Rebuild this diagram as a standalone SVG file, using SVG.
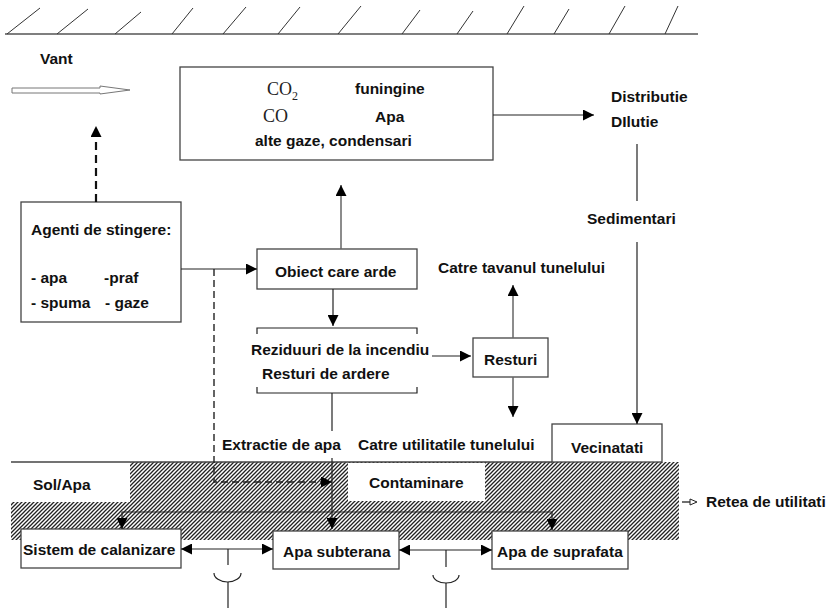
<svg xmlns="http://www.w3.org/2000/svg" width="839" height="608" viewBox="0 0 839 608">
<defs>
<style>
.t{font-family:"Liberation Sans",Arial,sans-serif;font-weight:bold;font-size:15.5px;fill:#111}
.s{font-family:"Liberation Serif","Times New Roman",serif;font-size:18px;fill:#222}
.box{fill:#fff;stroke:#444;stroke-width:1.3}
.ln{fill:none;stroke:#222;stroke-width:1.2}
.lg{fill:none;stroke:#666;stroke-width:1.5}
.dash{fill:none;stroke:#111;stroke-width:2.2;stroke-dasharray:8 5}
.dash2{fill:none;stroke:#222;stroke-width:1.4;stroke-dasharray:7 4}
.tick{stroke:#333;stroke-width:1}
</style>
<marker id="arr" viewBox="0 0 10 10" refX="10" refY="5" markerWidth="11" markerHeight="11" markerUnits="userSpaceOnUse" orient="auto"><path d="M0,0 L10,5 L0,10 z" fill="#000"/></marker>
<marker id="arrs" viewBox="0 0 10 10" refX="10" refY="5" markerWidth="11" markerHeight="11" markerUnits="userSpaceOnUse" orient="auto-start-reverse"><path d="M0,0 L10,5 L0,10 z" fill="#000"/></marker>
<marker id="arrb" viewBox="0 0 10 10" refX="10" refY="5" markerWidth="14" markerHeight="11" markerUnits="userSpaceOnUse" orient="auto"><path d="M0,0 L10,5 L0,10 z" fill="#000"/></marker>
<pattern id="hatch" patternUnits="userSpaceOnUse" width="4" height="4"><rect width="4" height="4" fill="#fff"/><path d="M-1,1 l2,-2 M0,4 l4,-4 M3,5 l2,-2" stroke="#222" stroke-width="1.3"/></pattern>
</defs>
<rect width="839" height="608" fill="#fff"/>

<g id="ceiling">
<line x1="5" y1="34" x2="698" y2="34" stroke="#555" stroke-width="1.5"/>
<line class="tick" x1="7" y1="34" x2="40" y2="8"/>
<line class="tick" x1="57" y1="34" x2="88" y2="9"/>
<line class="tick" x1="115" y1="34" x2="141" y2="12"/>
<line class="tick" x1="172" y1="34" x2="193" y2="8"/>
<line class="tick" x1="223" y1="34" x2="246" y2="7"/>
<line class="tick" x1="278" y1="34" x2="300" y2="7"/>
<line class="tick" x1="338" y1="34" x2="361" y2="6"/>
<line class="tick" x1="402" y1="34" x2="420" y2="10"/>
<line class="tick" x1="457" y1="34" x2="473" y2="11"/>
<line class="tick" x1="507" y1="34" x2="524" y2="6"/>
<line class="tick" x1="554" y1="34" x2="569" y2="9"/>
<line class="tick" x1="609" y1="34" x2="625" y2="6"/>
<line class="tick" x1="665" y1="34" x2="678" y2="6"/>
</g>

<g id="ground">
<path d="M130,462 H679 V540 H11 V502 H130 Z" fill="url(#hatch)"/>
<rect x="348" y="463" width="137" height="38" fill="#fff"/>
<line x1="11" y1="462" x2="552" y2="462" stroke="#444" stroke-width="1.3"/>
<text class="t" x="33" y="490">Sol/Apa</text>
<text class="t" x="369" y="488">Contaminare</text>
</g>

<g id="vant">
<text class="t" x="40" y="64">Vant</text>
<polygon points="12,88 100,88 100,86 130,90 100,94 100,93 12,93" fill="#fff" stroke="#777" stroke-width="1"/>
</g>

<g id="produse">
<rect class="box" x="180" y="67" width="313" height="93"/>
<text class="s" x="267" y="95">CO<tspan font-size="12" dy="5">2</tspan></text>
<text class="s" x="263" y="122">CO</text>
<text class="t" x="355" y="94">funingine</text>
<text class="t" x="375" y="122">Apa</text>
<text class="t" x="255" y="146">alte gaze, condensari</text>
</g>

<g id="distributie">
<text class="t" x="611" y="102">Distributie</text>
<text class="t" x="611" y="127">DIlutie</text>
</g>
<g id="sedimentari"><text class="t" x="587" y="224">Sedimentari</text></g>

<g id="agenti">
<rect class="box" x="21" y="202" width="160" height="120"/>
<text class="t" x="31" y="235">Agenti de stingere:</text>
<text class="t" x="31" y="283">- apa</text>
<text class="t" x="104" y="283">-praf</text>
<text class="t" x="31" y="308">- spuma</text>
<text class="t" x="105" y="308">- gaze</text>
</g>

<g id="obiect">
<rect class="box" x="257" y="249" width="160" height="40"/>
<text class="t" x="275" y="277">Obiect care arde</text>
</g>

<g id="reziduuri">
<path class="ln" d="M257,334 V328 H417 V334"/>
<path class="ln" d="M257,387 V393 H417 V387"/>
<text class="t" x="251" y="355">Reziduuri de la incendiu</text>
<text class="t" x="262" y="379">Resturi de ardere</text>
</g>

<g id="resturi">
<rect class="box" x="473" y="338" width="75" height="39"/>
<text class="t" x="484" y="365">Resturi</text>
</g>
<g id="tavan"><text class="t" x="438" y="273">Catre tavanul tunelului</text></g>
<g id="extractie"><text class="t" x="222" y="450">Extractie de apa</text></g>
<g id="utilitati"><text class="t" x="358" y="450">Catre utilitatile tunelului</text></g>

<g id="vecinatati">
<rect class="box" x="552" y="424" width="110" height="38"/>
<text class="t" x="571" y="453">Vecinatati</text>
</g>

<g id="retea">
<line x1="682" y1="502" x2="690" y2="502" stroke="#222" stroke-width="1.3"/>
<polygon points="690,499 690,505 697,502" fill="#fff" stroke="#222" stroke-width="1"/>
<text class="t" x="706" y="507">Retea de utilitati</text>
</g>

<g id="sistem">
<rect class="box" x="21" y="529" width="160" height="39"/>
<text class="t" x="23" y="555">Sistem de calanizare</text>
</g>
<g id="subterana">
<rect class="box" x="273" y="531" width="126" height="38"/>
<text class="t" x="283" y="557">Apa subterana</text>
</g>
<g id="suprafata">
<rect class="box" x="492" y="531" width="136" height="38"/>
<text class="t" x="497" y="557">Apa de suprafata</text>
</g>

<g id="connectors">
<line class="dash" x1="96" y1="202" x2="96" y2="126" marker-end="url(#arrb)"/>
<line class="ln" x1="493" y1="115" x2="594" y2="115" marker-end="url(#arr)"/>
<line class="ln" x1="637" y1="144" x2="637" y2="201"/>
<line class="ln" x1="637" y1="242" x2="637" y2="424" marker-end="url(#arr)"/>
<line class="ln" x1="181" y1="269" x2="257" y2="269" marker-end="url(#arr)"/>
<polyline class="dash2" points="214,269 214,482 332,482" marker-end="url(#arr)"/>
<line class="lg" x1="341" y1="249" x2="341" y2="185" marker-end="url(#arr)"/>
<line class="ln" x1="333" y1="289" x2="333" y2="326" marker-end="url(#arr)"/>
<line class="ln" x1="432" y1="356" x2="471" y2="356" marker-end="url(#arr)"/>
<line class="lg" x1="513" y1="338" x2="513" y2="285" marker-end="url(#arr)"/>
<line class="lg" x1="513" y1="377" x2="513" y2="417" marker-end="url(#arr)"/>
<line class="ln" x1="332" y1="393" x2="332" y2="431"/>
<line class="ln" x1="332" y1="458" x2="332" y2="529" marker-end="url(#arr)"/>
<path class="ln" d="M122,529 V512 H552 V530" marker-start="url(#arrs)" marker-end="url(#arr)"/>
<line class="ln" x1="181" y1="549" x2="273" y2="549" marker-start="url(#arrs)" marker-end="url(#arr)"/>
<line class="ln" x1="399" y1="550" x2="492" y2="550" marker-start="url(#arrs)" marker-end="url(#arr)"/>
<line class="ln" x1="228" y1="549" x2="228" y2="565"/>
<path class="ln" d="M214,573 A13.5,9 0 0 0 241,573"/>
<line class="ln" x1="228" y1="582" x2="228" y2="608"/>
<line class="ln" x1="446" y1="550" x2="446" y2="567"/>
<path class="ln" d="M433,575 A13,8 0 0 0 459,575"/>
<line class="ln" x1="446" y1="583" x2="446" y2="608"/>
</g>
</svg>
